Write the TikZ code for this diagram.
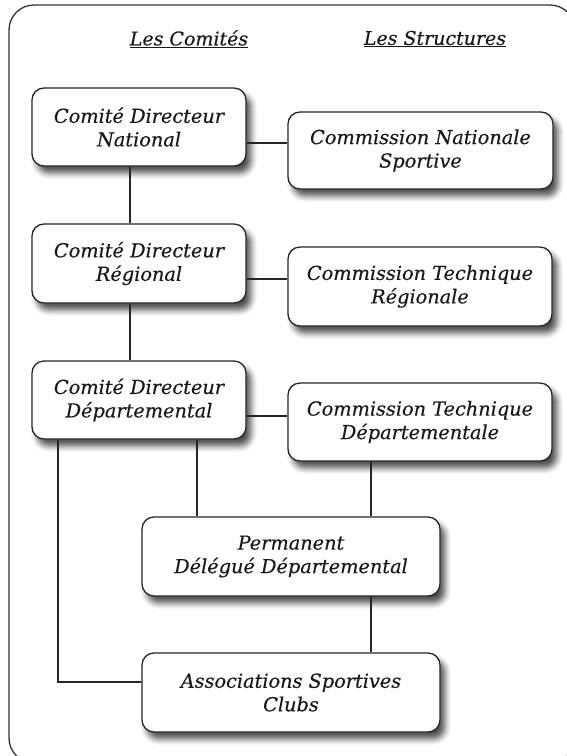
\documentclass[tikz,border=0pt]{standalone}
\usepackage{fontspec}
\setmainfont{DejaVu Serif}
\newfontface\bxit{DejaVu Serif Italic}[FakeBold=0.35]
\usetikzlibrary{shadows.blur,calc}
\begin{document}
\begin{tikzpicture}[x=1pt,y=-1pt,
  box/.style={draw=black!85, line width=1.3pt, rounded corners=12pt, fill=white,
    align=center, inner sep=0pt, text=black!90,
    font=\bxit\fontsize{19.3}{23.5}\selectfont,
    blur shadow={shadow xshift=5pt, shadow yshift=-7pt, shadow blur radius=6pt, shadow opacity=70}},
  link/.style={draw=black!85, line width=1.2pt},
  head/.style={font=\bxit\fontsize{19}{22}\selectfont, text=black!90}]
\useasboundingbox (0,0) rectangle (567,756);
\begin{scope}
  \clip (0,0) rectangle (567,756);
  \draw[line width=1.3pt, draw=black!80, rounded corners=25pt] (9,5) rectangle (575,763);
\end{scope}

\node[head] (h1) at (189,39) {\underline{Les Comités}};
\node[head] (h2) at (435,39) {\underline{Les Structures}};

\node[box, minimum width=214pt, minimum height=78pt] (CDN) at (139,127) {Comité Directeur\\National};
\node[box, minimum width=214pt, minimum height=79pt] (CDR) at (139,263.5) {Comité Directeur\\Régional};
\node[box, minimum width=214pt, minimum height=78pt] (CDD) at (139,400) {Comité Directeur\\Départemental};
\node[box, minimum width=265pt, minimum height=77pt] (CNS) at (420.5,150.5) {Commission Nationale\\Sportive};
\node[box, minimum width=264pt, minimum height=79pt] (CTR) at (420,286.5) {Commission Technique\\Régionale};
\node[box, minimum width=264pt, minimum height=78pt] (CTD) at (420,422) {Commission Technique\\Départementale};
\node[box, minimum width=298pt, minimum height=79pt] (PDD) at (291,556.5) {Permanent\\Délégué Départemental};
\node[box, minimum width=298pt, minimum height=79pt] (ASC) at (291,692.5) {Associations Sportives\\Clubs};

\draw[link] ([xshift=-9pt]CDN.south) -- ([xshift=-9pt]CDR.north);
\draw[link] ([xshift=-9pt]CDR.south) -- ([xshift=-9pt]CDD.north);
\draw[link] (CDN.east |- 0,143) -- (CNS.west |- 0,143);
\draw[link] (CDR.east |- 0,279) -- (CTR.west |- 0,279);
\draw[link] (CDD.east |- 0,416) -- (CTD.west |- 0,416);
\draw[link] (197,0 |- CDD.south) -- (197,0 |- PDD.north);
\draw[link] (371,0 |- CTD.south) -- (371,0 |- PDD.north);
\draw[link] (371,0 |- PDD.south) -- (371,0 |- ASC.north);
\draw[link] (58,0 |- CDD.south) |- (ASC.west |- 0,682);
\end{tikzpicture}
\end{document}
